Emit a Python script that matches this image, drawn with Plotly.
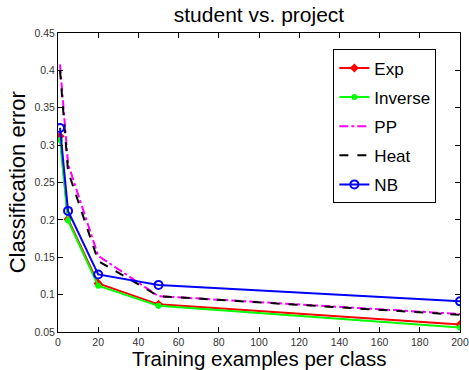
import plotly.graph_objects as go

x_vals = [1, 5, 20, 50, 200]
exp_err = [0.312, 0.201, 0.115, 0.087, 0.060]
inverse_err = [0.307, 0.199, 0.112, 0.085, 0.056]
pp_err = [0.408, 0.275, 0.152, 0.098, 0.074]
heat_err = [0.400, 0.265, 0.145, 0.098, 0.073]
nb_err = [0.323, 0.212, 0.127, 0.113, 0.091]

y_ticks = [0.05, 0.1, 0.15, 0.2, 0.25, 0.3, 0.35, 0.4, 0.45]
y_tick_labels = ["0.05", "0.1", "0.15", "0.2", "0.25", "0.3", "0.35", "0.4", "0.45"]
x_ticks = [0, 20, 40, 60, 80, 100, 120, 140, 160, 180, 200]

fig = go.Figure()
fig.add_trace(go.Scatter(x=x_vals, y=exp_err, name="Exp", mode="lines+markers",
                         line=dict(color="#ff0000", width=2),
                         marker=dict(symbol="diamond", size=7, color="#ff0000"),
                         legendgroup="a"))
fig.add_trace(go.Scatter(x=x_vals, y=inverse_err, name="Inverse", mode="lines+markers",
                         line=dict(color="#00ff00", width=2),
                         marker=dict(symbol="circle", size=6, color="#00ff00"),
                         legendgroup="b"))
fig.add_trace(go.Scatter(x=x_vals, y=pp_err, name="PP", mode="lines",
                         line=dict(color="#ff00ff", width=2, dash="dashdot"),
                         legendgroup="c"))
fig.add_trace(go.Scatter(x=x_vals, y=heat_err, name="Heat", mode="lines",
                         line=dict(color="#000000", width=2, dash="dash"),
                         legendgroup="d"))
fig.add_trace(go.Scatter(x=x_vals, y=nb_err, name="NB", mode="lines+markers",
                         line=dict(color="#0000ff", width=2),
                         marker=dict(symbol="circle-open", size=8, color="#0000ff",
                                     line=dict(width=2, color="#0000ff")),
                         legendgroup="e"))

fig.update_layout(
    width=469, height=370,
    margin=dict(l=58, r=9, t=33, b=38, autoexpand=False),
    paper_bgcolor="white", plot_bgcolor="white",
    font=dict(family="Liberation Sans, Arial, sans-serif", color="#000"),
    title=dict(text="student vs. project", x=259 / 469, xanchor="center",
               y=1 - 15 / 370, yanchor="middle", font=dict(size=21, color="#000")),
    legend=dict(x=0.685, y=0.945, xanchor="left", yanchor="top",
                bordercolor="#000", borderwidth=1, bgcolor="white",
                font=dict(size=17, color="#000"), tracegroupgap=4,
                itemwidth=30),
    showlegend=True,
    annotations=[
        dict(text="Training examples per class", xref="paper", yref="paper",
             x=0.5, y=-(358 - 332) / 299, xanchor="center", yanchor="middle",
             showarrow=False, font=dict(size=20.5, color="#000")),
        dict(text="Classification error", xref="paper", yref="paper",
             x=-0.1, y=0.5, xanchor="center", yanchor="middle", textangle=-90,
             showarrow=False, font=dict(size=22, color="#000")),
    ],
)
fig.update_xaxes(range=[0, 200], tickvals=x_ticks, ticks="inside", ticklen=5,
                 tickcolor="#000", showline=True, linecolor="#000", linewidth=1,
                 mirror="ticks", showgrid=False, zeroline=False, automargin=False,
                 ticklabeloverflow="allow",
                 tickfont=dict(size=10.5, color="#333"))
fig.update_yaxes(range=[0.05, 0.45], tickvals=y_ticks, ticktext=y_tick_labels,
                 ticks="inside", ticklen=5, tickcolor="#000", showline=True,
                 linecolor="#000", linewidth=1, mirror="ticks", showgrid=False,
                 zeroline=False, automargin=False, ticklabeloverflow="allow",
                 tickfont=dict(size=10.5, color="#333"))

fig.write_html("out.html", config={"displayModeBar": False},
               post_script="document.body.style.margin='0px';")
